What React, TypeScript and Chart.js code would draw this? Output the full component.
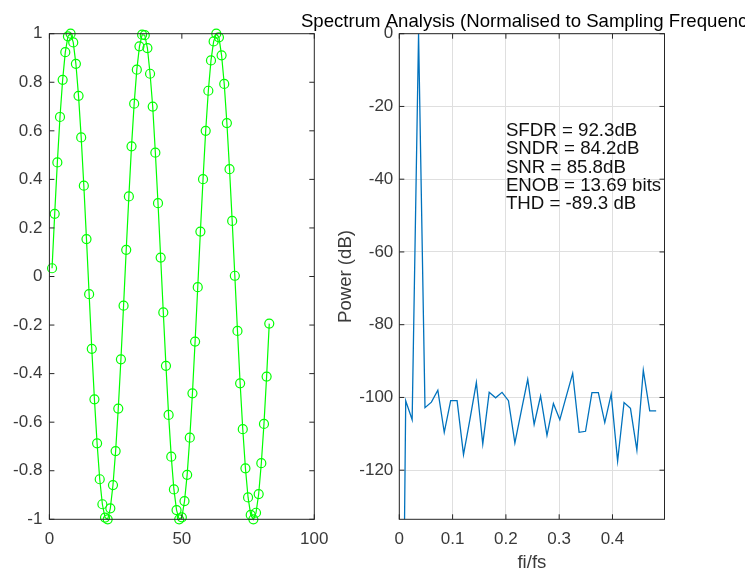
import React, { useEffect, useRef } from "react";
import { Chart, registerables } from "chart.js";

Chart.register(...registerables);

// ---------- data ----------
// time-domain samples (index 1..83)
const signalValues = [
  0.034, 0.258, 0.47, 0.657, 0.81, 0.924, 0.989, 1.0, 0.964, 0.876,
  0.744, 0.573, 0.374, 0.154, -0.073, -0.298, -0.506, -0.687, -0.835, -0.938,
  -0.993, -1.0, -0.955, -0.859, -0.719, -0.544, -0.341, -0.12, 0.11, 0.33,
  0.536, 0.712, 0.852, 0.948, 0.996, 0.994, 0.941, 0.835, 0.7, 0.51,
  0.302, 0.078, -0.148, -0.368, -0.57, -0.742, -0.877, -0.962, -1.0, -0.992,
  -0.925, -0.817, -0.664, -0.481, -0.268, -0.044, 0.185, 0.401, 0.6, 0.765,
  0.89, 0.968, 1.0, 0.985, 0.911, 0.793, 0.632, 0.442, 0.229, 0.003,
  -0.224, -0.44, -0.629, -0.79, -0.91, -0.982, -1.0, -0.973, -0.896, -0.769,
  -0.607, -0.412, -0.194,
];
const sampleIndex = signalValues.map((_, i) => i + 1);

// spectrum: normalised frequency (fi/fs) and power (dB)
const spectrumFreq = [
  0, 0.01205, 0.0241, 0.03614, 0.04819, 0.06024, 0.07229, 0.08434, 0.09639, 0.10843,
  0.12048, 0.13253, 0.14458, 0.15663, 0.16867, 0.18072, 0.19277, 0.20482, 0.21687, 0.22892,
  0.24096, 0.25301, 0.26506, 0.27711, 0.28916, 0.3012, 0.31325, 0.3253, 0.33735, 0.3494,
  0.36145, 0.37349, 0.38554, 0.39759, 0.40964, 0.42169, 0.43373, 0.44578, 0.45783, 0.46988,
  0.48193,
];
const spectrumPower = [
  -280, -100.9, -106.1, 0, -102.8, -101.3, -98.0, -109.6, -100.9, -100.9,
  -115.7, -106.0, -95.9, -112.8, -98.6, -100.1, -98.6, -100.9, -112.5, -103.7,
  -95.0, -107.4, -99.6, -110.4, -101.7, -106.1, -99.7, -93.4, -109.6, -109.3,
  -98.7, -98.7, -106.9, -99.1, -117.5, -101.4, -103.0, -114.5, -92.5, -103.7,
  -103.7,
];

// ticks
const timeXTicks = [0, 50, 100];
const timeYTicks = [-1, -0.8, -0.6, -0.4, -0.2, 0, 0.2, 0.4, 0.6, 0.8, 1];
const specXTicks = [0, 0.1, 0.2, 0.3, 0.4];
const specYTicks = [-120, -100, -80, -60, -40, -20, 0];

// texts
const specTitle = "Spectrum Analysis (Normalised to Sampling Frequency)";
const specXLabel = "fi/fs";
const specYLabel = "Power (dB)";
const specStats = [
  "SFDR = 92.3dB",
  "SNDR = 84.2dB",
  "SNR = 85.8dB",
  "ENOB = 13.69 bits",
  "THD = -89.3 dB",
];
const statsAnchor = { x: 0.2, y: -36.9 };

// ---------- styling ----------
const W = 745;
const H = 573;
const FONT = "'Liberation Sans', Arial, Helvetica, sans-serif";
const AXIS_COLOR = "#262626";
const LABEL_COLOR = "#3a3a3a";
const TOP = 33.7;
const BOTTOM = 519.3;
const TICK_LEN = 5;

const fmt = (v: number) => {
  const r = Number(v.toFixed(2));
  return String(Object.is(r, -0) ? 0 : r);
};

function drawFrame(chart: any, xt: number[], yt: number[]) {
  const { ctx, chartArea: a, scales } = chart;
  ctx.save();
  ctx.strokeStyle = AXIS_COLOR;
  ctx.lineWidth = 1;
  ctx.strokeRect(a.left, a.top, a.right - a.left, a.bottom - a.top);
  ctx.beginPath();
  xt.forEach((v) => {
    const x = scales.x.getPixelForValue(v);
    ctx.moveTo(x, a.bottom);
    ctx.lineTo(x, a.bottom - TICK_LEN);
    ctx.moveTo(x, a.top);
    ctx.lineTo(x, a.top + TICK_LEN);
  });
  yt.forEach((v) => {
    const y = scales.y.getPixelForValue(v);
    ctx.moveTo(a.left, y);
    ctx.lineTo(a.left + TICK_LEN, y);
    ctx.moveTo(a.right, y);
    ctx.lineTo(a.right - TICK_LEN, y);
  });
  ctx.stroke();
  ctx.restore();
}

const tickFont = { family: FONT, size: 17 };

export default function App() {
  const leftRef = useRef<HTMLCanvasElement | null>(null);
  const rightRef = useRef<HTMLCanvasElement | null>(null);

  useEffect(() => {
    const left = new Chart(leftRef.current as HTMLCanvasElement, {
      type: "line",
      data: {
        datasets: [
          {
            data: signalValues.map((v, i) => ({ x: sampleIndex[i], y: v })),
            borderColor: "#00ff00",
            borderWidth: 1.2,
            pointStyle: "circle",
            pointRadius: 4.5,
            pointBorderWidth: 1.2,
            pointBorderColor: "#00ff00",
            pointBackgroundColor: "rgba(0,0,0,0)",
            tension: 0,
            fill: false,
            clip: false as any,
          },
        ],
      },
      options: {
        responsive: false,
        animation: false,
        events: [],
        layout: { padding: { left: 0, top: TOP, right: W - 314.3, bottom: 0 } },
        plugins: {
          legend: { display: false },
          tooltip: { enabled: false },
          title: { display: false },
        },
        scales: {
          x: {
            type: "linear",
            min: 0,
            max: 100,
            grid: { display: false, drawTicks: false },
            border: { display: false },
            ticks: {
              autoSkip: false,
              maxRotation: 0,
              padding: 10,
              color: LABEL_COLOR,
              font: tickFont,
              callback: (v: any) => fmt(Number(v)),
            },
            afterBuildTicks: (s: any) => {
              s.ticks = timeXTicks.map((v) => ({ value: v }));
            },
            afterFit: (s: any) => {
              s.height = H - BOTTOM;
            },
          },
          y: {
            type: "linear",
            min: -1,
            max: 1,
            grid: { display: false, drawTicks: false },
            border: { display: false },
            ticks: {
              autoSkip: false,
              padding: 7,
              color: LABEL_COLOR,
              font: tickFont,
              callback: (v: any) => fmt(Number(v)),
            },
            afterBuildTicks: (s: any) => {
              s.ticks = timeYTicks.map((v) => ({ value: v }));
            },
            afterFit: (s: any) => {
              s.width = 49.4;
            },
          },
        },
      },
      plugins: [
        {
          id: "frameLeft",
          afterDraw: (chart: any) => drawFrame(chart, timeXTicks, timeYTicks),
        },
      ],
    });

    const right = new Chart(rightRef.current as HTMLCanvasElement, {
      type: "line",
      data: {
        datasets: [
          {
            data: spectrumPower.map((v, i) => ({ x: spectrumFreq[i], y: v })),
            borderColor: "#0072BD",
            borderWidth: 1.3,
            pointRadius: 0,
            tension: 0,
            fill: false,
          },
        ],
      },
      options: {
        responsive: false,
        animation: false,
        events: [],
        layout: { padding: { left: 330, top: TOP, right: W - 664.5, bottom: 0 } },
        plugins: {
          legend: { display: false },
          tooltip: { enabled: false },
          title: { display: false },
        },
        scales: {
          x: {
            type: "linear",
            min: 0,
            max: 0.4976,
            grid: { display: true, drawTicks: false, color: "#dfdfdf", lineWidth: 1 },
            border: { display: false },
            ticks: {
              autoSkip: false,
              maxRotation: 0,
              padding: 10,
              color: LABEL_COLOR,
              font: tickFont,
              callback: (v: any) => fmt(Number(v)),
            },
            afterBuildTicks: (s: any) => {
              s.ticks = specXTicks.map((v) => ({ value: v }));
            },
            afterFit: (s: any) => {
              s.height = H - BOTTOM;
            },
          },
          y: {
            type: "linear",
            min: -133.5,
            max: 0,
            grid: { display: true, drawTicks: false, color: "#dfdfdf", lineWidth: 1 },
            border: { display: false },
            ticks: {
              autoSkip: false,
              padding: 6,
              color: LABEL_COLOR,
              font: tickFont,
              callback: (v: any) => fmt(Number(v)),
            },
            afterBuildTicks: (s: any) => {
              s.ticks = specYTicks.map((v) => ({ value: v }));
            },
            afterFit: (s: any) => {
              s.width = 399.3 - 330;
            },
          },
        },
      },
      plugins: [
        {
          id: "frameRight",
          afterDraw: (chart: any) => {
            drawFrame(chart, specXTicks, specYTicks);
            const { ctx, chartArea: a, scales } = chart;
            const cx = (a.left + a.right) / 2;
            ctx.save();
            // title
            ctx.fillStyle = "#000000";
            ctx.font = `18.6px ${FONT}`;
            ctx.textAlign = "center";
            ctx.textBaseline = "alphabetic";
            ctx.fillText(specTitle, cx, 26.7);
            // x label
            ctx.fillStyle = LABEL_COLOR;
            ctx.fillText(specXLabel, cx, 568.3);
            // y label
            ctx.save();
            ctx.translate(350.7, (a.top + a.bottom) / 2);
            ctx.rotate(-Math.PI / 2);
            ctx.textAlign = "center";
            ctx.textBaseline = "alphabetic";
            ctx.fillText(specYLabel, 0, 0);
            ctx.restore();
            // stats text
            const tx = scales.x.getPixelForValue(statsAnchor.x);
            const ty = scales.y.getPixelForValue(statsAnchor.y);
            ctx.fillStyle = "#111111";
            ctx.font = `18.7px ${FONT}`;
            ctx.textAlign = "left";
            ctx.textBaseline = "alphabetic";
            const n = specStats.length;
            specStats.forEach((t, i) => {
              ctx.fillText(t, tx, ty + (i - (n - 1) / 2) * 18.1 + 4.6);
            });
            ctx.restore();
          },
        },
      ],
    });

    return () => {
      left.destroy();
      right.destroy();
    };
  }, []);

  const style: React.CSSProperties = {
    position: "fixed",
    left: 0,
    top: 0,
    width: W,
    height: H,
  };

  return (
    <div style={{ position: "fixed", left: 0, top: 0, width: W, height: H, background: "#ffffff" }}>
      <canvas ref={leftRef} width={W} height={H} style={style} />
      <canvas ref={rightRef} width={W} height={H} style={style} />
    </div>
  );
}
